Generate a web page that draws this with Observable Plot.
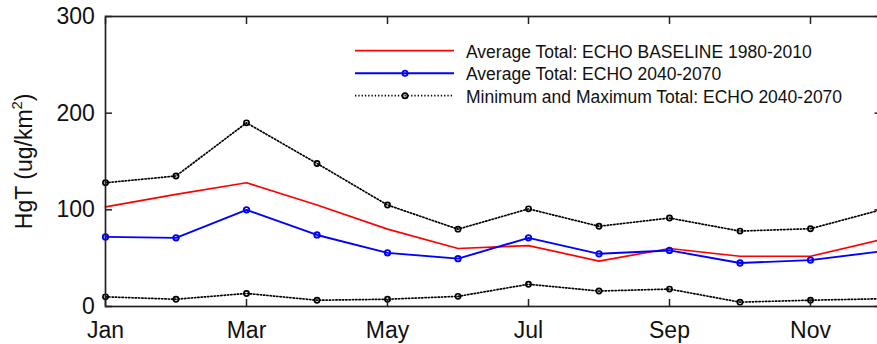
<!DOCTYPE html>
<html>
<head>
<meta charset="utf-8">
<script src="https://cdn.jsdelivr.net/npm/d3@7"></script>
<script src="https://cdn.jsdelivr.net/npm/@observablehq/plot@0.6"></script>
<style>
  html, body { margin: 0; padding: 0; background: #fff; }
  #chart { width: 877px; height: 344px; overflow: hidden; }
  svg { font-family: "Liberation Sans", Arial, sans-serif; }
</style>
</head>
<body>
<div id="chart"></div>
<script>
// ---- data ----
const months = [1, 2, 3, 4, 5, 6, 7, 8, 9, 10, 11, 12];
const monthLabels = ["Jan", "Feb", "Mar", "Apr", "May", "Jun", "Jul", "Aug", "Sep", "Oct", "Nov", "Dec"];
const xTicks = [1, 3, 5, 7, 9, 11];
const yTicks = [0, 100, 200, 300];
const baseline = [103, 116, 128, 105, 80, 60, 63, 47, 60, 52, 52, 69];
const futureAvg = [72, 71, 100, 74, 55.5, 49.5, 71, 54.5, 58, 45, 48, 57];
const futureMax = [128, 135, 190, 148, 105, 80, 101, 83, 91.5, 78, 80.5, 100];
const futureMin = [10, 7.5, 13.5, 6.5, 7.5, 10.5, 23, 16, 18, 4.5, 6.5, 8];
const seriesNames = [
  "Average Total: ECHO BASELINE 1980-2010",
  "Average Total: ECHO 2040-2070",
  "Minimum and Maximum Total: ECHO 2040-2070"
];

const rows = (vals) => months.map((m, i) => ({month: m, value: vals[i]}));
const base = rows(baseline), avg = rows(futureAvg), mx = rows(futureMax), mn = rows(futureMin);

const tickFont = 23;
const dotted = "1.3,2";

const svg = Plot.plot({
  width: 877,
  height: 344,
  marginLeft: 105,
  marginRight: -3.5,
  marginTop: 16,
  marginBottom: 38,
  style: {fontFamily: "Liberation Sans, Arial, sans-serif", background: "white", overflow: "hidden"},
  x: {domain: [1, 12], axis: null, label: null},
  y: {domain: [0, 300], axis: null, label: null},
  marks: [
    // series
    Plot.line(mx, {x: "month", y: "value", stroke: "#000", strokeWidth: 1.7, strokeDasharray: dotted}),
    Plot.line(mn, {x: "month", y: "value", stroke: "#000", strokeWidth: 1.7, strokeDasharray: dotted}),
    Plot.dot(mx, {x: "month", y: "value", r: 2.6, stroke: "#000", strokeWidth: 1.7, fill: "none"}),
    Plot.dot(mn, {x: "month", y: "value", r: 2.6, stroke: "#000", strokeWidth: 1.7, fill: "none"}),
    Plot.line(base, {x: "month", y: "value", stroke: "#ff0000", strokeWidth: 1.7}),
    Plot.line(avg, {x: "month", y: "value", stroke: "#0000ff", strokeWidth: 1.9}),
    Plot.dot(avg, {x: "month", y: "value", r: 2.7, stroke: "#0000ff", strokeWidth: 1.9, fill: "none"}),
    // axes with inward ticks
    Plot.axisX(xTicks, {anchor: "bottom", label: null, tickSize: -7, tickPadding: 22.4, strokeWidth: 1.5, stroke: "#222",
      tickFormat: (d) => monthLabels[d - 1], fontSize: tickFont, fill: "#111"}),
    Plot.axisX(xTicks, {anchor: "top", label: null, tickSize: -7, strokeWidth: 1.5, stroke: "#222", tickFormat: () => ""}),
    Plot.axisY(yTicks, {anchor: "left", label: null, tickSize: -7, tickPadding: 17.7, strokeWidth: 1.5, stroke: "#222",
      fontSize: tickFont, fill: "#111"}),
    Plot.axisY(yTicks, {anchor: "right", label: null, tickSize: -7, strokeWidth: 1.5, stroke: "#222", tickFormat: () => ""}),
    Plot.frame({stroke: "#222", strokeWidth: 1.7})
  ]
});

const s = d3.select(svg);

// y-axis title with superscript
const yl = s.append("text")
  .attr("transform", "translate(31.7,161.3) rotate(-90)")
  .attr("text-anchor", "middle")
  .attr("font-size", tickFont)
  .attr("fill", "#111");
yl.append("tspan").text("HgT (ug/km");
yl.append("tspan").attr("font-size", "65%").attr("dy", "-0.62em").text("2");
yl.append("tspan").attr("dy", "0.4em").text(")");

// legend
const lg = s.append("g").attr("text-anchor", "start");
const legendRows = [
  {name: seriesNames[0], y: 50.7, stroke: "#ff0000", w: 1.7, dash: null, marker: false},
  {name: seriesNames[1], y: 73.3, stroke: "#0000ff", w: 1.9, dash: null, marker: true},
  {name: seriesNames[2], y: 95.7, stroke: "#000", w: 1.7, dash: dotted, marker: true}
];
legendRows.forEach((r) => {
  lg.append("line").attr("x1", 355).attr("x2", 454).attr("y1", r.y).attr("y2", r.y)
    .attr("stroke", r.stroke).attr("stroke-width", r.w).attr("stroke-dasharray", r.dash);
  if (r.marker) {
    lg.append("circle").attr("cx", 405).attr("cy", r.y).attr("r", 2.6)
      .attr("fill", "none").attr("stroke", r.stroke).attr("stroke-width", 1.8);
  }
  lg.append("text").attr("x", 466).attr("y", r.y).attr("dy", "0.4em").attr("text-anchor", "start")
    .attr("font-size", 17.5).attr("fill", "#111").text(r.name);
});

document.getElementById("chart").appendChild(svg);
</script>
</body>
</html>
